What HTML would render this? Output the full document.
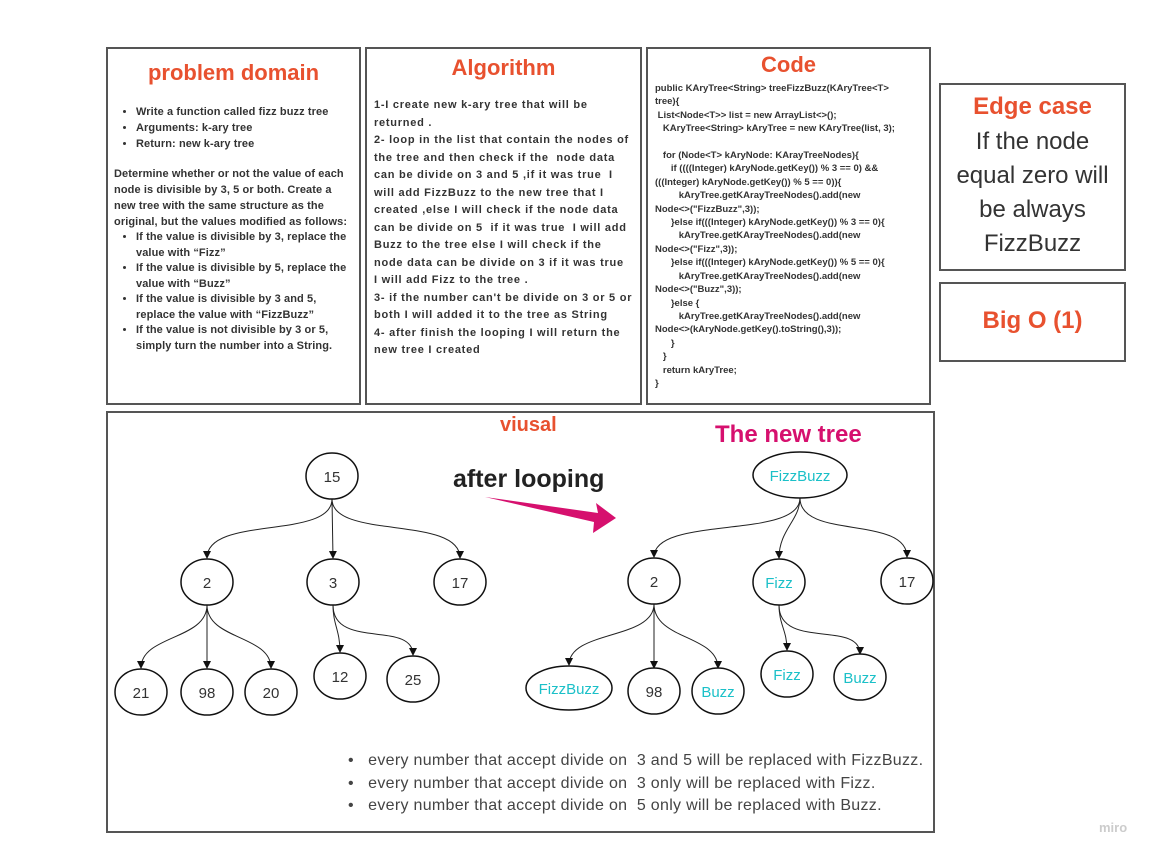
<!DOCTYPE html>
<html><head><meta charset="utf-8"><style>
body{margin:0;width:1162px;height:859px;background:#fff;position:relative;overflow:hidden;font-family:"Liberation Sans",sans-serif;color:#333}
.box{position:absolute;border:2px solid #555;box-sizing:border-box;background:#fff}
.t{position:absolute;color:#e8512f;font-weight:bold;text-align:center;left:0;right:0}
.sm{position:absolute;font-size:11px;font-weight:bold;color:#333;line-height:15.5px;white-space:nowrap}
ul{margin:0;padding-left:28px}
li{margin:0}
</style></head><body>
<div class="box" style="left:106px;top:47px;width:255px;height:358px">
 <div class="t" style="top:11px;font-size:22px">problem domain</div>
 <div class="sm" style="top:55px;left:0;width:250px;font-size:11px;line-height:16px;letter-spacing:0.1px">
  <ul style="padding-left:28px"><li>Write a function called fizz buzz tree</li><li>Arguments: k-ary tree</li><li>Return: new k-ary tree</li></ul>
  <div style="padding-left:6px;margin-top:14px">Determine whether or not the value of each<br>node is divisible by 3, 5 or both. Create a<br>new tree with the same structure as the<br>original, but the values modified as follows:</div>
  <ul style="padding-left:28px;line-height:15.5px"><li>If the value is divisible by 3, replace the<br>value with “Fizz”</li><li>If the value is divisible by 5, replace the<br>value with “Buzz”</li><li>If the value is divisible by 3 and 5,<br>replace the value with “FizzBuzz”</li><li>If the value is not divisible by 3 or 5,<br>simply turn the number into a String.</li></ul>
 </div>
</div>
<div class="box" style="left:365px;top:47px;width:277px;height:358px">
 <div class="t" style="top:6px;font-size:22px">Algorithm</div>
 <div class="sm" style="top:48px;left:7px;width:268px;font-size:11px;line-height:17.5px;letter-spacing:0.75px">1-I create new k-ary tree that will be<br>returned .<br>2- loop in the list that contain the nodes of<br>the tree and then check if the &nbsp;node data<br>can be divide on 3 and 5 ,if it was true &nbsp;I<br>will add FizzBuzz to the new tree that I<br>created ,else I will check if the node data<br>can be divide on 5 &nbsp;if it was true &nbsp;I will add<br>Buzz to the tree else I will check if the<br>node data can be divide on 3 if it was true<br>I will add Fizz to the tree .<br>3- if the number can't be divide on 3 or 5 or<br>both I will added it to the tree as String<br>4- after finish the looping I will return the<br>new tree I created</div>
</div>
<div class="box" style="left:646px;top:47px;width:285px;height:358px">
 <div class="t" style="top:3px;font-size:22px">Code</div>
 <div class="sm" style="top:33px;left:7px;width:275px;font-size:9.5px;line-height:13.4px;white-space:pre">public KAryTree&lt;String&gt; treeFizzBuzz(KAryTree&lt;T&gt;
tree){
 List&lt;Node&lt;T&gt;&gt; list = new ArrayList&lt;&gt;();
   KAryTree&lt;String&gt; kAryTree = new KAryTree(list, 3);

   for (Node&lt;T&gt; kAryNode: KArayTreeNodes){
      if ((((Integer) kAryNode.getKey()) % 3 == 0) &amp;&amp;
(((Integer) kAryNode.getKey()) % 5 == 0)){
         kAryTree.getKArayTreeNodes().add(new
Node&lt;&gt;("FizzBuzz",3));
      }else if(((Integer) kAryNode.getKey()) % 3 == 0){
         kAryTree.getKArayTreeNodes().add(new
Node&lt;&gt;("Fizz",3));
      }else if(((Integer) kAryNode.getKey()) % 5 == 0){
         kAryTree.getKArayTreeNodes().add(new
Node&lt;&gt;("Buzz",3));
      }else {
         kAryTree.getKArayTreeNodes().add(new
Node&lt;&gt;(kAryNode.getKey().toString(),3));
      }
   }
   return kAryTree;
}</div>
</div>
<div class="box" style="left:939px;top:83px;width:187px;height:188px">
 <div class="t" style="top:8px;font-size:24px">Edge case</div>
 <div style="position:absolute;top:40px;left:0;right:0;text-align:center;font-size:24px;line-height:34px;color:#333">If the node<br>equal zero will<br>be always<br>FizzBuzz</div>
</div>
<div class="box" style="left:939px;top:282px;width:187px;height:80px">
 <div class="t" style="top:23px;font-size:24px">Big O (1)</div>
</div>
<div class="box" style="left:106px;top:411px;width:829px;height:422px"></div>
<div style="position:absolute;left:500px;top:414px;font-size:20px;font-weight:bold;color:#e8512f">viusal</div>
<div style="position:absolute;left:715px;top:421px;font-size:24px;font-weight:bold;color:#d6106e">The new tree</div>
<div style="position:absolute;left:453px;top:465px;font-size:25px;font-weight:bold;color:#222">after looping</div>
<svg width="1162" height="859" style="position:absolute;left:0;top:0" font-family="Liberation Sans,sans-serif">
<defs><marker id="a" markerWidth="8" markerHeight="8" refX="7" refY="4" orient="auto" markerUnits="userSpaceOnUse"><path d="M0,0 L8,4 L0,8z" fill="#111"/></marker></defs>
<g fill="none" stroke="#222" stroke-width="1" marker-end="url(#a)">
<path d="M332,499 C332,540 207,515 207,558"/><path d="M332,499 L333,558"/><path d="M332,499 C332,540 460,515 460,558"/>
<path d="M207,605 C207,640 141,635 141,668"/><path d="M207,605 L207,668"/><path d="M207,605 C207,640 271,635 271,668"/>
<path d="M333,605 C333,625 340,630 340,652"/><path d="M333,605 C333,650 413,620 413,655"/>
<path d="M800,498 C800,540 654,515 654,557"/><path d="M800,498 C800,520 779,530 779,558"/><path d="M800,498 C800,540 907,515 907,557"/>
<path d="M654,604 C654,640 569,630 569,665"/><path d="M654,604 L654,668"/><path d="M654,604 C654,640 718,635 718,668"/>
<path d="M779,605 C779,625 787,630 787,650"/><path d="M779,605 C779,650 860,620 860,654"/>
</g>
<g fill="#fff" stroke="#111" stroke-width="1.5">
<ellipse cx="332" cy="476" rx="26" ry="23"/><ellipse cx="207" cy="582" rx="26" ry="23"/><ellipse cx="333" cy="582" rx="26" ry="23"/><ellipse cx="460" cy="582" rx="26" ry="23"/>
<ellipse cx="141" cy="692" rx="26" ry="23"/><ellipse cx="207" cy="692" rx="26" ry="23"/><ellipse cx="271" cy="692" rx="26" ry="23"/><ellipse cx="340" cy="676" rx="26" ry="23"/><ellipse cx="413" cy="679" rx="26" ry="23"/>
<ellipse cx="800" cy="475" rx="47" ry="23"/><ellipse cx="654" cy="581" rx="26" ry="23"/><ellipse cx="779" cy="582" rx="26" ry="23"/><ellipse cx="907" cy="581" rx="26" ry="23"/>
<ellipse cx="569" cy="688" rx="43" ry="22"/><ellipse cx="654" cy="691" rx="26" ry="23"/><ellipse cx="718" cy="691" rx="26" ry="23"/><ellipse cx="787" cy="674" rx="26" ry="23"/><ellipse cx="860" cy="677" rx="26" ry="23"/>
</g>
<g font-size="15" text-anchor="middle" fill="#333">
<text x="332" y="482">15</text><text x="207" y="588">2</text><text x="333" y="588">3</text><text x="460" y="588">17</text>
<text x="141" y="698">21</text><text x="207" y="698">98</text><text x="271" y="698">20</text><text x="340" y="682">12</text><text x="413" y="685">25</text>
<text x="654" y="587">2</text><text x="907" y="587">17</text><text x="654" y="697">98</text>
</g>
<g font-size="15" text-anchor="middle" fill="#1bc0c8">
<text x="800" y="481">FizzBuzz</text><text x="779" y="588">Fizz</text><text x="569" y="694">FizzBuzz</text><text x="718" y="697">Buzz</text><text x="787" y="680">Fizz</text><text x="860" y="683">Buzz</text>
</g>
<path d="M485,497 L598,513 L596,503 L616,518 L593,533 L594,522 Z" fill="#d6106e"/>
<text x="1099" y="832" font-size="13" fill="#ccc" font-weight="bold">miro</text>
</svg>
<div style="position:absolute;left:348px;top:750px;font-size:16px;line-height:22.5px;color:#444;white-space:nowrap;letter-spacing:0.3px">
<div>•&nbsp;&nbsp; every number that accept divide on &nbsp;3 and 5 will be replaced with FizzBuzz.</div>
<div>•&nbsp;&nbsp; every number that accept divide on &nbsp;3 only will be replaced with Fizz.</div>
<div>•&nbsp;&nbsp; every number that accept divide on &nbsp;5 only will be replaced with Buzz.</div>
</div>
</body></html>
